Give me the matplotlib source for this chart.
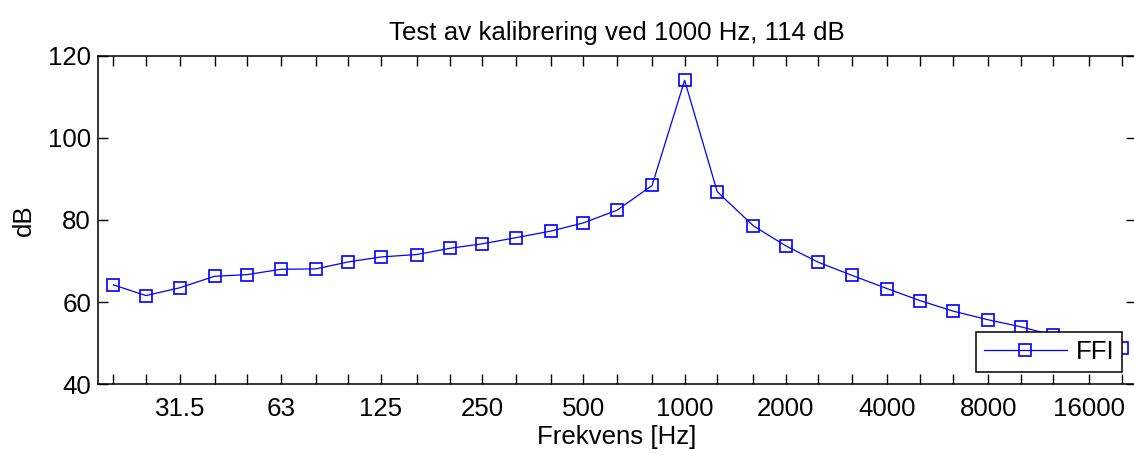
import matplotlib
matplotlib.use("Agg")
import matplotlib.pyplot as plt

plt.rcParams['font.family'] = ['Liberation Sans', 'DejaVu Sans']

# Third-octave band centre frequencies (Hz)
bands = [20, 25, 31.5, 40, 50, 63, 80, 100, 125, 160, 200, 250, 315, 400, 500,
         630, 800, 1000, 1250, 1600, 2000, 2500, 3150, 4000, 5000, 6300, 8000,
         10000, 12500, 16000, 20000]
# Measured level per band (dB)
ffi_db = [64.2, 61.6, 63.5, 66.3, 66.7, 68.0, 68.1, 69.8, 71.0, 71.6, 73.1, 74.2,
          75.7, 77.3, 79.3, 82.4, 88.4, 114.0, 86.9, 78.6, 73.7, 69.7, 66.5, 63.3,
          60.4, 57.8, 55.7, 54.0, 51.9, 50.4, 48.9]
# Octave bands that carry a tick label
labelled = ['31.5', '63', '125', '250', '500', '1000', '2000', '4000', '8000', '16000']
yticks = [40, 60, 80, 100, 120]

fig = plt.figure(figsize=(11.34, 4.53), dpi=100)
ax = fig.add_axes([98 / 1134, 1 - 384.3 / 453, 1038 / 1134, 328.6 / 453])

ax.plot(bands, ffi_db, color=(0, 0, 1), linewidth=0.9, marker='s', markersize=8.6,
        markerfacecolor='none', markeredgecolor=(0, 0, 1), markeredgewidth=1.2,
        label='FFI')

ax.set_xscale('log')
ax.set_xlim(18, 22000)
ax.set_ylim(40, 120)
ax.minorticks_off()
ax.set_xticks(bands)
ax.set_xticklabels([(f'{b:g}' if f'{b:g}' in labelled else '') for b in bands])
ax.set_yticks(yticks)

fs = 18.6
ax.tick_params(axis='both', which='major', direction='in', length=7.5, width=1.0,
               top=True, right=True, labelsize=fs, colors='black')
ax.tick_params(axis='x', pad=9)
ax.tick_params(axis='y', pad=5)
for s in ax.spines.values():
    s.set_linewidth(1.1)

ax.set_title('Test av kalibrering ved 1000 Hz, 114 dB', fontsize=fs, pad=11)
ax.set_xlabel('Frekvens [Hz]', fontsize=fs, labelpad=3)
ax.set_ylabel('dB', fontsize=fs, labelpad=9)

leg = ax.legend(loc='lower right', bbox_to_anchor=(0.9865, 0.038), borderaxespad=0,
                fontsize=fs, fancybox=False, framealpha=1, edgecolor='black',
                handlelength=3.2, handletextpad=0.35, borderpad=0.3)
leg.get_frame().set_linewidth(1.1)

fig.savefig('out.png', dpi=100)
